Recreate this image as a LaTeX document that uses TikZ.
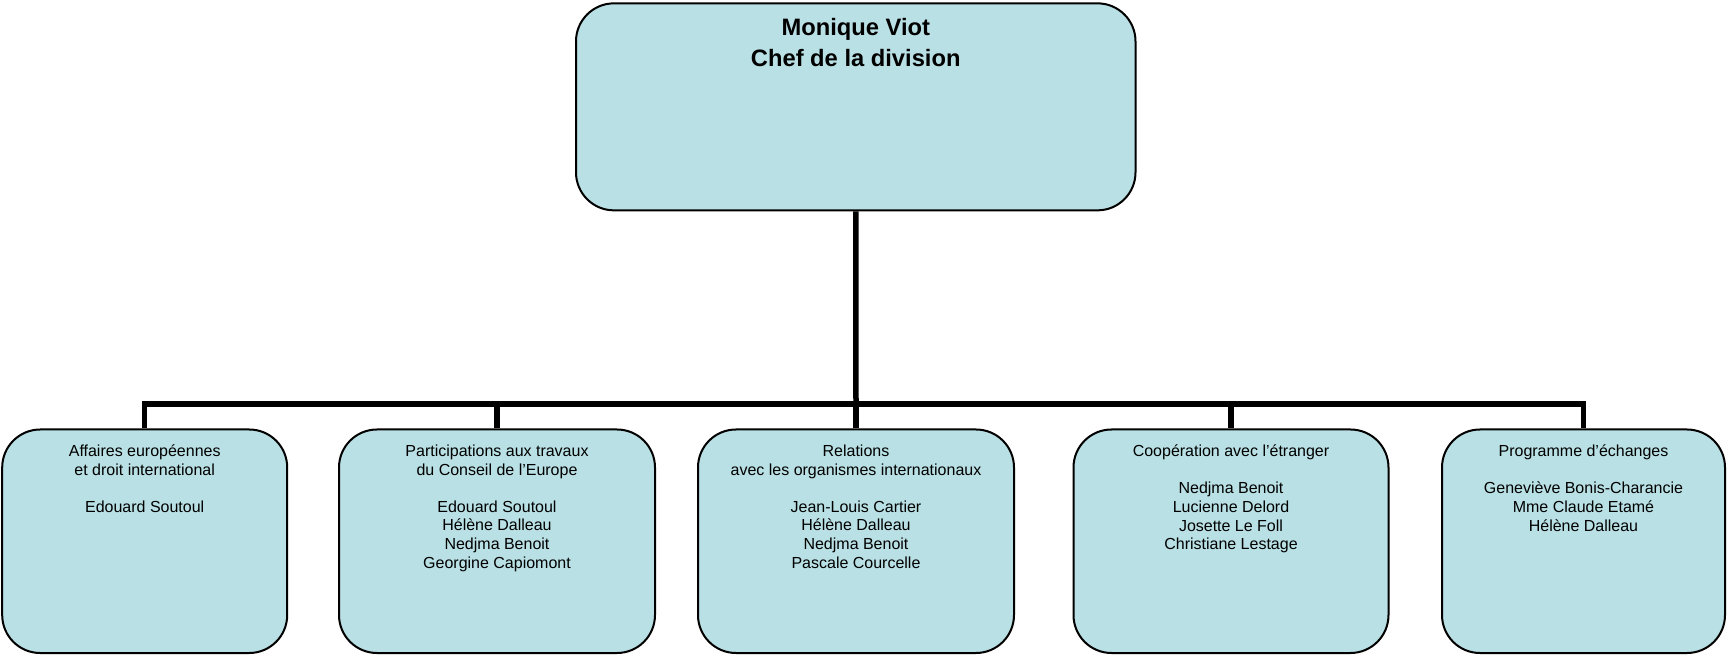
\documentclass[tikz,border=0pt]{standalone}
\usepackage{fontspec}
\setmainfont{Liberation Sans}
\definecolor{boxblue}{RGB}{185,224,228}
\begin{document}
\begin{tikzpicture}[
  headbox/.style={draw=black, line width=0.4mm, fill=boxblue, rounded corners=0.76cm,
    minimum width=11.19cm, minimum height=4.14cm, inner sep=0pt},
  secbox/.style={draw=black, line width=0.4mm, fill=boxblue, rounded corners=0.76cm,
    minimum height=4.47cm, inner sep=0pt},
  headtext/.style={anchor=north, align=center, inner sep=0pt,
    font=\fontsize{13.5pt}{17.5pt}\selectfont\bfseries},
  sectext/.style={anchor=north, align=center, inner sep=0pt,
    font=\fontsize{9.1pt}{10.6pt}\selectfont},
  link/.style={line width=1.1mm}
]
\useasboundingbox (0,0) rectangle (34.54,13.1);

% head of the division
\node[headbox] (chef) at (17.115,10.963) {};
\node[headtext] (cheftxt) at ([yshift=-0.32cm]chef.north) {Monique Viot\\Chef de la division};

% sections
\node[secbox, minimum width=5.70cm] (euro) at (2.894,2.275) {};
\node[secbox, minimum width=6.32cm] (conseil) at (9.94,2.275) {};
\node[secbox, minimum width=6.32cm] (relat) at (17.12,2.275) {};
\node[secbox, minimum width=6.30cm] (coop) at (24.62,2.275) {};
\node[secbox, minimum width=5.66cm] (echange) at (31.67,2.275) {};

\node[sectext] (eurotxt) at ([yshift=-0.32cm]euro.north)
  {Affaires européennes\\et droit international\\[10.6pt]Edouard Soutoul};
\node[sectext] (conseiltxt) at ([yshift=-0.32cm]conseil.north)
  {Participations aux travaux\\du Conseil de l’Europe\\[10.6pt]Edouard Soutoul\\Hélène Dalleau\\Nedjma Benoit\\Georgine Capiomont};
\node[sectext] (relattxt) at ([yshift=-0.32cm]relat.north)
  {Relations\\avec les organismes internationaux\\[10.6pt]Jean-Louis Cartier\\Hélène Dalleau\\Nedjma Benoit\\Pascale Courcelle};
\node[sectext] (cooptxt) at ([yshift=-0.32cm]coop.north)
  {Coopération avec l’étranger\\[10.6pt]Nedjma Benoit\\Lucienne Delord\\Josette Le Foll\\Christiane Lestage};
\node[sectext] (echangetxt) at ([yshift=-0.32cm]echange.north)
  {Programme d’échanges\\[10.6pt]Geneviève Bonis-Charancie\\Mme Claude Etamé\\Hélène Dalleau};

% connectors
\coordinate (bus) at (17.12,5.02);
\draw[link] (chef.south) -- (bus);
\draw[link] (euro.north) |- (echange.north |- bus) -- (echange.north);
\draw[link] (conseil.north) -- (conseil.north |- bus);
\draw[link] (relat.north) -- (bus);
\draw[link] (coop.north) -- (coop.north |- bus);
\end{tikzpicture}
\end{document}
